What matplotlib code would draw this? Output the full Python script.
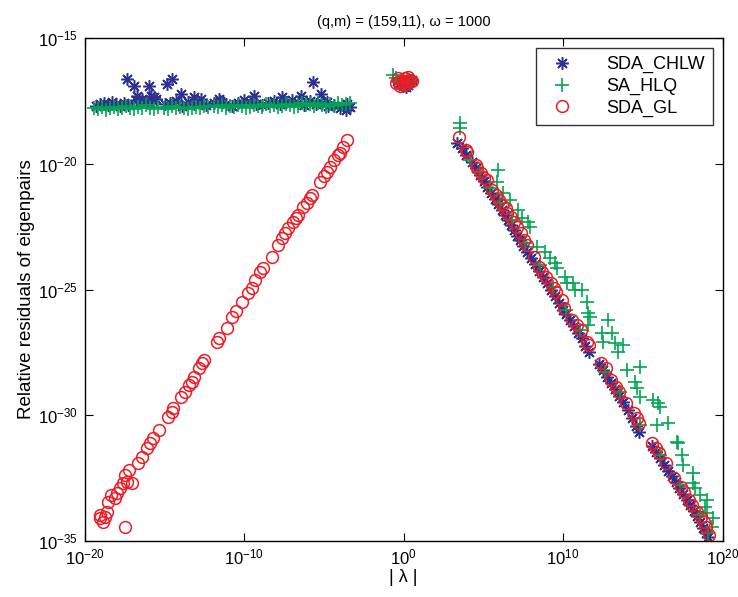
import numpy as np
import matplotlib
matplotlib.use("Agg")
from matplotlib import pyplot as plt
from matplotlib.ticker import NullLocator, FixedLocator

plt.rcParams['font.family'] = ['Liberation Sans', 'DejaVu Sans']
plt.rcParams['mathtext.fontset'] = 'custom'
plt.rcParams['mathtext.rm'] = 'Liberation Sans'

# values, stored as log10(|lambda|) and log10(residual)

# SDA_CHLW: flat band for small |lambda|
chlw_band_lx = [-19.31, -19.06, -18.81, -18.56, -18.31, -18.05, -17.80, -17.55, -17.30, -16.80,
                -16.55, -16.17, -15.92, -15.54, -14.98, -14.66, -14.29, -13.91, -13.53, -13.16,
                -12.78, -12.40, -11.90, -11.53, -11.15, -10.77, -10.40, -10.02, -9.64, -9.27,
                -8.89, -8.51, -8.14, -7.76, -7.38, -7.01, -6.63, -6.25, -5.88, -5.50,
                -5.12, -4.75, -4.37, -3.99, -3.62, -3.36]
chlw_band_ly = [-17.70, -17.62, -17.58, -17.66, -17.54, -17.62, -17.70, -17.58, -17.66, -17.47,
                -17.54, -17.50, -17.58, -17.43, -17.62, -17.58, -17.50, -17.70, -17.54, -17.62,
                -17.58, -17.66, -17.58, -17.50, -17.62, -17.70, -17.58, -17.47, -17.54, -17.62,
                -17.66, -17.58, -17.50, -17.62, -17.54, -17.47, -17.58, -17.66, -17.50, -17.62,
                -17.58, -17.70, -17.66, -17.78, -17.86, -17.74]
chlw_out_lx = [-17.36, -16.92, -15.98, -16.74, -16.42, -15.86, -15.67, -14.85, -14.54, -13.97,
               -13.16, -12.72, -11.59, -9.39, -7.63, -6.44, -5.69, -5.19, -4.81, -3.55]
chlw_out_ly = [-16.63, -16.91, -16.91, -17.31, -17.43, -17.31, -17.35, -16.83, -16.63, -17.23,
               -17.35, -17.43, -17.43, -17.31, -17.35, -17.31, -16.75, -17.23, -17.54, -17.62]
# cluster around |lambda| = 1
chlw_mid_lx = [-0.45, -0.25, -0.05, 0.10, 0.25, 0.40, 0.50, 0.15]
chlw_mid_ly = [-16.70, -16.80, -16.90, -16.75, -16.85, -16.70, -16.65, -16.95]
# branch for large |lambda|
chlw_right_lx = [3.35, 3.67, 3.92, 4.29, 4.54, 4.80, 5.05, 5.24, 5.49, 5.74,
                 5.93, 6.18, 6.37, 6.55, 6.74, 6.93, 7.12, 7.31, 7.50, 7.75,
                 8.00, 8.25, 8.50, 8.75, 9.00, 9.25, 9.50, 9.75, 10.01, 10.19,
                 10.45, 10.70, 10.95, 11.20, 11.39, 11.64, 12.27, 12.52, 12.77, 13.02,
                 13.27, 13.52, 13.77, 14.09, 14.34, 14.59, 14.78, 15.59, 15.84, 16.10,
                 16.35, 16.60, 16.85, 17.10, 17.29, 17.54, 17.79, 17.98, 18.23, 18.42,
                 18.61, 18.80, 18.99, 19.11]
chlw_right_ly = [-19.17, -19.37, -19.65, -19.93, -20.17, -20.45, -20.69, -20.92, -21.16, -21.40,
                 -21.60, -21.84, -22.04, -22.24, -22.44, -22.64, -22.87, -23.03, -23.27, -23.51,
                 -23.75, -23.99, -24.26, -24.50, -24.74, -25.02, -25.26, -25.54, -25.81, -25.97,
                 -26.21, -26.45, -26.73, -26.93, -27.25, -27.49, -27.96, -28.20, -28.48, -28.72,
                 -28.96, -29.23, -29.47, -29.79, -30.11, -30.43, -30.67, -31.22, -31.46, -31.70,
                 -31.98, -32.22, -32.42, -32.65, -32.89, -33.13, -33.37, -33.57, -33.81, -34.01,
                 -34.24, -34.48, -34.68, -34.84]

# SA_HLQ
hlq_band_lx = [-19.44, -19.18, -18.93, -18.68, -18.43, -18.18, -17.93, -17.68, -17.43, -17.18,
               -16.92, -16.67, -16.42, -16.17, -15.92, -15.67, -15.42, -15.04, -14.79, -14.54,
               -14.29, -14.04, -13.79, -13.53, -13.28, -13.03, -12.78, -12.53, -12.28, -11.90,
               -11.65, -11.40, -11.15, -10.90, -10.65, -10.40, -10.14, -9.89, -9.64, -9.39,
               -9.14, -8.89, -8.64, -8.39, -8.14, -7.88, -7.63, -7.38, -7.13, -6.88,
               -6.63, -6.38, -6.13, -5.88, -5.62, -5.37, -5.12, -4.87, -4.62, -4.37,
               -4.12, -3.87, -3.62, -3.36]
hlq_band_ly = [-17.78, -17.82, -17.74, -17.86, -17.78, -17.74, -17.82, -17.78, -17.70, -17.78,
               -17.82, -17.74, -17.78, -17.66, -17.78, -17.82, -17.74, -17.78, -17.82, -17.70,
               -17.78, -17.74, -17.78, -17.82, -17.78, -17.74, -17.78, -17.70, -17.74, -17.70,
               -17.74, -17.66, -17.78, -17.70, -17.74, -17.66, -17.70, -17.78, -17.74, -17.66,
               -17.70, -17.74, -17.62, -17.70, -17.66, -17.74, -17.70, -17.62, -17.66, -17.74,
               -17.70, -17.58, -17.66, -17.62, -17.70, -17.58, -17.66, -17.74, -17.62, -17.70,
               -17.58, -17.66, -17.62, -17.58]
hlq_mid_lx = [-0.70, -0.50, -0.30, -0.10, 0.05, 0.20, 0.35, 0.50]
hlq_mid_ly = [-16.45, -16.60, -16.75, -16.65, -16.80, -16.60, -16.70, -16.75]
hlq_right_lx = [3.54, 3.54, 4.17, 4.80, 5.42, 5.93, 5.86, 6.05, 6.24, 6.68,
                6.80, 7.18, 7.43, 7.62, 7.81, 7.93, 8.37, 8.56, 8.88, 9.19,
                9.38, 9.50, 9.63, 10.13, 10.19, 10.26, 10.63, 10.76, 11.07, 11.20,
                11.51, 11.58, 11.70, 11.58, 12.64, 12.83, 12.45, 13.08, 12.52, 13.27,
                13.58, 13.77, 13.46, 14.02, 14.84, 14.53, 14.65, 14.84, 14.84, 15.66,
                15.97, 16.10, 16.10, 15.91, 16.60, 17.16, 17.23, 17.35, 17.48, 17.54,
                18.17, 18.17, 18.29, 18.61, 18.61, 19.05, 18.92, 19.05, 19.42, 19.36,
                19.11]
hlq_right_ly = [-18.38, -18.58, -19.85, -20.33, -20.96, -20.25, -20.73, -21.56, -21.16, -21.44,
                -22.24, -21.84, -22.16, -23.15, -22.32, -22.52, -23.31, -24.03, -23.51, -23.75,
                -24.90, -23.95, -24.15, -24.51, -25.81, -24.74, -24.74, -25.02, -26.61, -25.02,
                -25.50, -25.93, -26.09, -26.41, -28.28, -26.21, -26.73, -26.73, -27.09, -27.13,
                -29.08, -27.21, -27.49, -28.20, -28.08, -28.68, -28.92, -29.27, -30.39, -29.39,
                -29.51, -29.67, -31.58, -30.39, -30.31, -31.06, -31.10, -32.77, -31.58, -31.98,
                -32.30, -32.69, -32.89, -33.17, -33.97, -33.37, -33.65, -33.89, -34.09, -34.44,
                -34.68]

# SDA_GL
gl_left_lx = [-19.06, -18.88, -19.06, -17.50, -18.63, -18.56, -18.13, -18.00, -17.81, -17.63,
              -17.38, -17.50, -17.06, -16.69, -16.44, -16.13, -15.94, -15.75, -14.81, -14.56,
              -14.50, -13.94, -13.75, -13.44, -13.31, -13.13, -12.81, -12.63, -12.50, -11.69,
              -11.56, -11.06, -10.75, -10.13, -9.50, -9.31, -8.81, -8.25, -7.88, -7.63,
              -7.25, -6.94, -6.63, -6.31, -6.06, -5.75, -5.25, -4.81, -4.63, -4.13,
              -4.00, -3.81, -3.56, -7.44, -6.75, -5.88, -5.00, -4.38, -9.00, -9.75,
              -10.50, -18.38, -18.75, -17.25, -15.38]
gl_left_ly = [-34.08, -34.24, -33.97, -34.44, -33.85, -33.45, -33.29, -33.09, -32.89, -32.69,
              -32.65, -32.38, -32.69, -31.90, -31.66, -31.30, -31.10, -30.90, -30.07, -29.87,
              -29.71, -29.27, -29.08, -28.80, -28.68, -28.48, -28.12, -27.92, -27.80, -27.08,
              -26.93, -26.53, -26.09, -25.50, -24.94, -24.62, -24.15, -23.71, -23.23, -22.95,
              -22.55, -22.32, -22.04, -21.72, -21.56, -21.24, -20.73, -20.33, -20.13, -19.65,
              -19.57, -19.33, -19.06, -22.75, -22.16, -21.36, -20.49, -19.85, -24.31, -25.14,
              -25.85, -33.17, -34.05, -32.18, -30.59]
gl_mid_lx = [-0.50, -0.35, -0.20, -0.05, 0.10, 0.25, 0.40, 0.55, -0.30, 0.00, 0.30, 0.15]
gl_mid_ly = [-16.80, -16.60, -16.90, -16.70, -16.60, -16.80, -16.65, -16.70, -16.75, -16.85, -16.55, -16.70]
gl_right_lx = [3.50, 3.94, 4.00, 4.56, 4.63, 4.88, 5.06, 5.25, 5.56, 5.81,
               6.00, 6.19, 6.44, 6.50, 6.75, 6.94, 7.13, 7.38, 7.56, 7.75,
               8.19, 8.50, 8.69, 8.94, 9.25, 9.44, 9.56, 9.94, 10.06, 10.56,
               10.88, 11.13, 11.50, 11.63, 12.38, 12.69, 13.00, 13.31, 13.50, 13.94,
               14.44, 14.63, 14.75, 15.56, 15.81, 16.00, 16.44, 16.94, 17.38, 17.56,
               17.88, 18.06, 18.38, 18.63, 18.81, 18.94, 19.13]
gl_right_ly = [-18.94, -19.46, -19.53, -20.05, -20.17, -20.37, -20.57, -20.65, -21.04, -21.24,
               -21.44, -21.64, -21.76, -21.96, -22.12, -22.32, -22.52, -22.75, -23.03, -23.23,
               -23.71, -24.11, -24.30, -24.50, -24.74, -24.94, -25.10, -25.42, -25.74, -26.21,
               -26.41, -26.61, -27.09, -27.21, -27.92, -28.12, -28.60, -28.88, -29.08, -29.51,
               -29.91, -30.11, -30.31, -31.10, -31.30, -31.50, -31.90, -32.50, -32.85, -33.05,
               -33.37, -33.57, -33.85, -34.05, -34.24, -34.44, -34.76]

x_ticks = [1e-20, 1e-10, 1e0, 1e10, 1e20]
y_ticks = [1e-35, 1e-30, 1e-25, 1e-20, 1e-15]

blue = '#2E3192'
green = '#00A651'
red = '#ED1C24'

chlw_x = 10.0 ** np.array(chlw_band_lx + chlw_out_lx + chlw_mid_lx + chlw_right_lx)
chlw_y = 10.0 ** np.array(chlw_band_ly + chlw_out_ly + chlw_mid_ly + chlw_right_ly)
hlq_x = 10.0 ** np.array(hlq_band_lx + hlq_mid_lx + hlq_right_lx)
hlq_y = 10.0 ** np.array(hlq_band_ly + hlq_mid_ly + hlq_right_ly)
gl_x = 10.0 ** np.array(gl_left_lx + gl_mid_lx + gl_right_lx)
gl_y = 10.0 ** np.array(gl_left_ly + gl_mid_ly + gl_right_ly)

fig = plt.figure(figsize=(7.38, 5.97), dpi=100)
ax = fig.add_axes([0.115, 0.094, 0.864, 0.842])

ax.plot(chlw_x, chlw_y, linestyle='none', marker=(8, 2, 0), markersize=9,
        markeredgecolor=blue, markeredgewidth=1.1, label='SDA_CHLW')
ax.plot(hlq_x, hlq_y, linestyle='none', marker='+', markersize=10,
        markeredgecolor=green, markeredgewidth=1.2, label='SA_HLQ')
ax.plot(gl_x, gl_y, linestyle='none', marker='o', markersize=8.5,
        markerfacecolor='none', markeredgecolor=red, markeredgewidth=1.1, label='SDA_GL')

ax.set_xscale('log')
ax.set_yscale('log')
ax.set_xlim(x_ticks[0], x_ticks[-1])
ax.set_ylim(y_ticks[0], y_ticks[-1])
ax.xaxis.set_major_locator(FixedLocator(x_ticks))
ax.yaxis.set_major_locator(FixedLocator(y_ticks))
ax.xaxis.set_minor_locator(NullLocator())
ax.yaxis.set_minor_locator(NullLocator())
ax.tick_params(direction='in', top=True, right=True, length=6, width=0.8,
               labelsize=12, pad=5)
for s in ax.spines.values():
    s.set_linewidth(1.0)

ax.set_title('(q,m) = (159,11), \u03c9 = 1000', fontsize=10.5, pad=9)
ax.set_xlabel('| \u03bb |', fontsize=13, labelpad=1)
ax.set_ylabel('Relative residuals of eigenpairs', fontsize=13.5, labelpad=2)

leg = ax.legend(loc='upper right', fontsize=13, frameon=True, fancybox=False,
                edgecolor='black', borderpad=0.45, handlelength=2.0, handletextpad=1.4,
                labelspacing=0.25, borderaxespad=0.55)
leg.get_frame().set_linewidth(1.0)

fig.savefig('out.png', dpi=100)
